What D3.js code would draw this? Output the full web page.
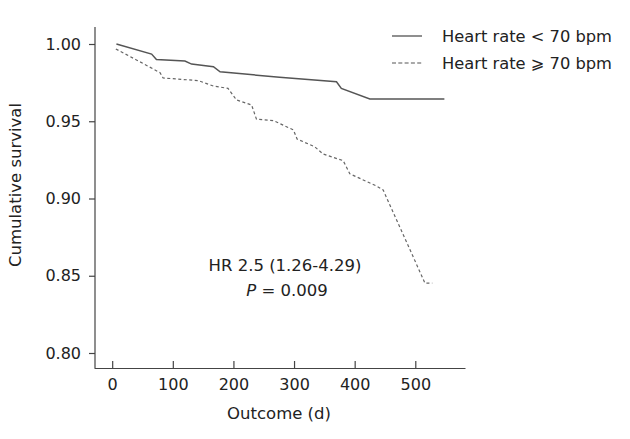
<!DOCTYPE html>
<html><head><meta charset="utf-8">
<script src="https://cdn.jsdelivr.net/npm/d3@7"></script>
<style>
body{margin:0;background:#fff;}
svg{display:block;font-family:"DejaVu Sans",sans-serif;}
</style></head>
<body><svg id="c" width="630" height="439"></svg>
<script>
const lowDays = [7,65,73,120,131,167,178,276,370,378,425,548];
const lowSurv = [1.000,0.9935,0.990,0.989,0.987,0.9853,0.982,0.9785,0.9756,0.9713,0.9644,0.9644];
const highDays = [6,40,79,84,142,167,191,205,230,238,266,299,305,334,348,381,392,436,447,516,528];
const highSurv = [0.9968,0.9897,0.9814,0.978,0.9763,0.9728,0.9713,0.9638,0.9605,0.9513,0.9504,0.9444,0.9385,0.9335,0.9288,0.9245,0.916,0.9081,0.9055,0.8452,0.8452];
const xTicks = [0,100,200,300,400,500];
const yTicks = [0.80,0.85,0.90,0.95,1.00];
const seriesNames = ["Heart rate < 70 bpm","Heart rate \u2a7e 70 bpm"];
const annot = ["HR 2.5 (1.26-4.29)","= 0.009"];
const xLabel = "Outcome (d)", yLabel = "Cumulative survival";

const svg = d3.select("#c");
const x = d3.scaleLinear().domain([-30,582]).range([94,465]);
const y = d3.scaleLinear().domain([0.80,1.00]).range([353,44]);
const axisCol = "#444", txtCol = "#222";
const fs = 16;

// x axis
const gx = svg.append("g").attr("transform","translate(0,368)")
  .call(d3.axisBottom(x).tickValues(xTicks).tickFormat(d3.format("d")).tickSizeInner(-7).tickSizeOuter(0).tickPadding(11));
gx.selectAll("path,line").attr("stroke",axisCol).attr("stroke-width",1.2);
gx.selectAll("text").attr("font-size",fs).attr("fill",txtCol).attr("font-family","DejaVu Sans");

// y axis
const gy = svg.append("g").attr("transform","translate(95,0)")
  .call(d3.axisLeft(y).tickValues(yTicks).tickFormat(d3.format(".2f")).tickSize(6).tickPadding(8));
gy.select(".domain").remove();
gy.append("line").attr("x1",0).attr("x2",0).attr("y1",27).attr("y2",368).attr("stroke",axisCol).attr("stroke-width",1.2);
gy.selectAll(".tick line").attr("stroke",axisCol).attr("stroke-width",1.2);
gy.selectAll("text").attr("font-size",fs).attr("fill",txtCol).attr("font-family","DejaVu Sans");

// labels
svg.append("text").attr("x",279).attr("y",419).attr("text-anchor","middle").attr("font-size",16.5).attr("fill",txtCol).text(xLabel);
svg.append("text").attr("transform","translate(21,185) rotate(-90)").attr("text-anchor","middle").attr("font-size",16.5).attr("fill",txtCol).text(yLabel);

// lines
const line = d3.line().x(d=>x(d[0])).y(d=>y(d[1]));
svg.append("path").datum(lowDays.map((d,i)=>[d,lowSurv[i]])).attr("d",line)
  .attr("fill","none").attr("stroke","#555").attr("stroke-width",1.5);
svg.append("path").datum(highDays.map((d,i)=>[d,highSurv[i]])).attr("d",line)
  .attr("fill","none").attr("stroke","#666").attr("stroke-width",1.2).attr("stroke-dasharray","3,2.5");

// legend
svg.append("line").attr("x1",392).attr("x2",422).attr("y1",36).attr("y2",36).attr("stroke","#444").attr("stroke-width",1.2);
svg.append("line").attr("x1",392).attr("x2",422).attr("y1",63).attr("y2",63).attr("stroke","#555").attr("stroke-width",1.2).attr("stroke-dasharray","4,2.3");
svg.append("text").attr("x",442).attr("y",42).attr("font-size",16.3).attr("fill",txtCol).text(seriesNames[0]);
svg.append("text").attr("x",442).attr("y",69).attr("font-size",16.3).attr("fill",txtCol).text(seriesNames[1]);

// annotation
svg.append("text").attr("x",285).attr("y",271).attr("text-anchor","middle").attr("font-size",16.5).attr("fill",txtCol).text(annot[0]);
const t2 = svg.append("text").attr("x",287).attr("y",296).attr("text-anchor","middle").attr("font-size",16.5).attr("fill",txtCol);
t2.append("tspan").attr("font-style","italic").text("P");
t2.append("tspan").text(" " + annot[1]);
</script></body></html>
